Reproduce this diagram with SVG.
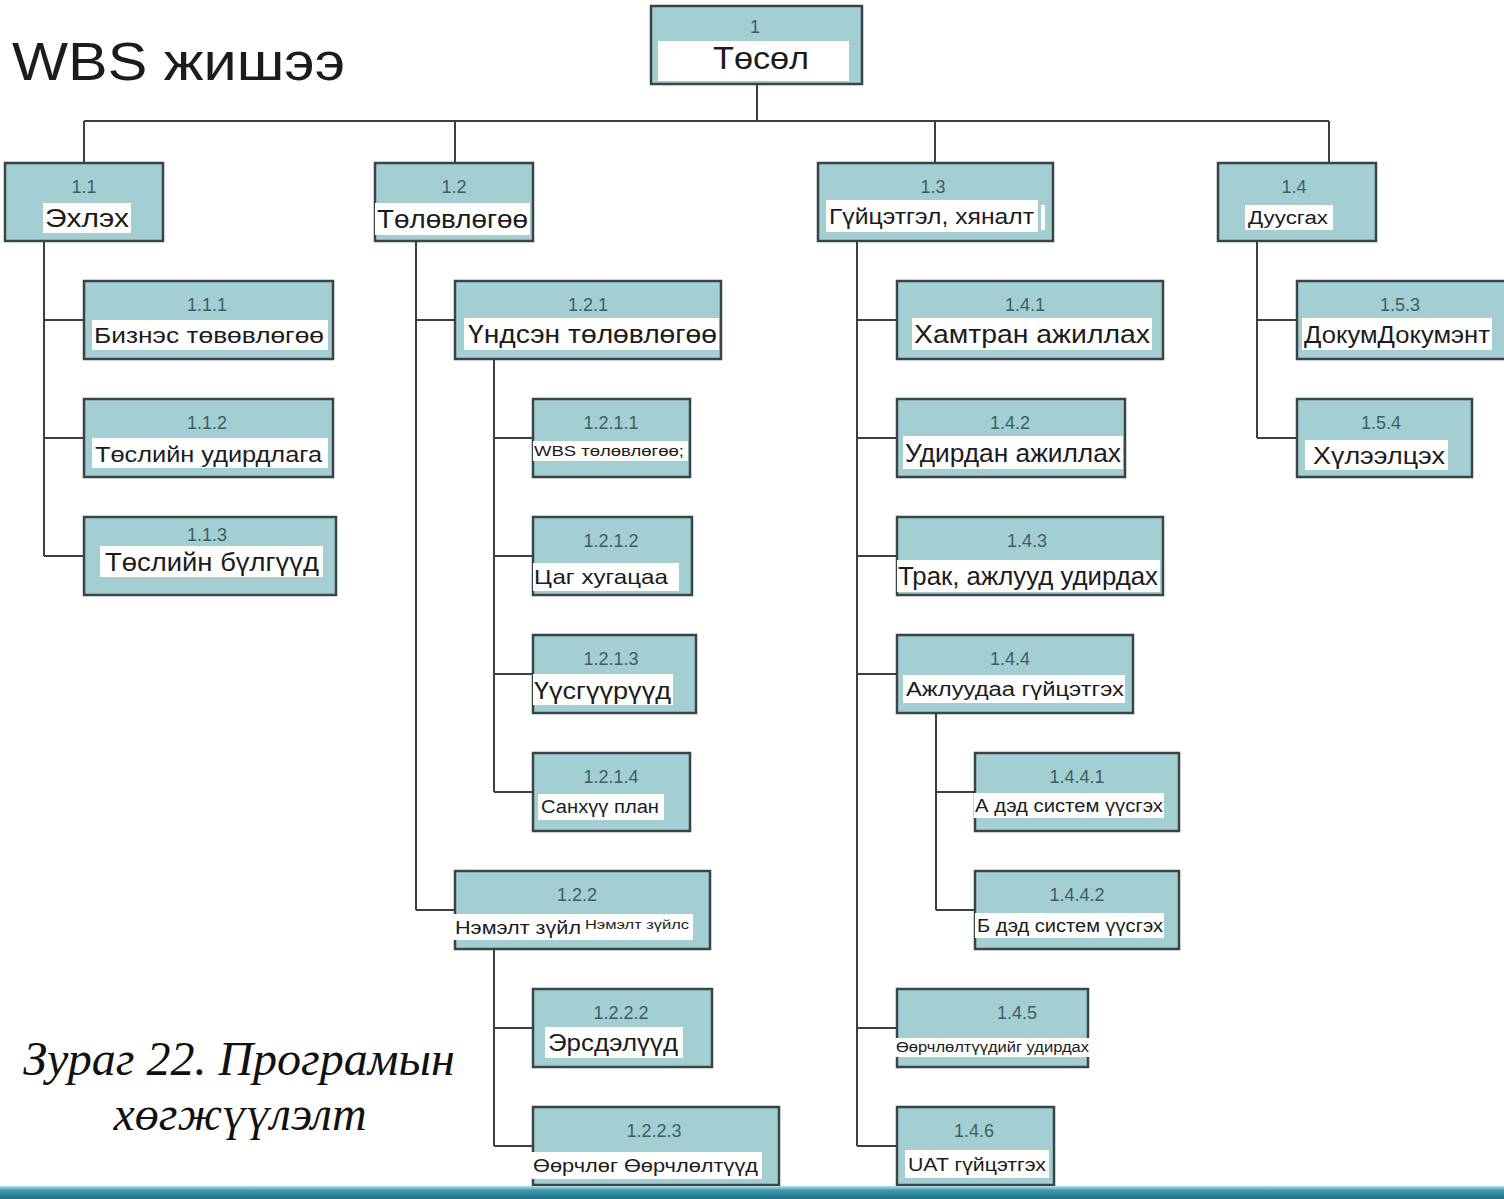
<svg xmlns="http://www.w3.org/2000/svg" width="1504" height="1199" viewBox="0 0 1504 1199">
<defs>
<style>
.box{fill:#a3cfd3;stroke:#3a4446;stroke-width:2.5}
.lb{fill:#ffffff}
.num{font-family:"Liberation Sans",Arial,sans-serif;font-size:18px;fill:#3b5f63;text-anchor:middle}
.t{font-family:"Liberation Sans",Arial,sans-serif;fill:#1c1c1c}
.c{fill:none;stroke:#3a3f40;stroke-width:2}
.cap{font-family:"Liberation Serif","Times New Roman",serif;font-style:italic;font-size:48px;fill:#111;text-anchor:middle}
</style>
<linearGradient id="bar" x1="0" y1="0" x2="0" y2="1">
<stop offset="0" stop-color="#b9e0e6"/>
<stop offset="0.35" stop-color="#3d97ab"/>
<stop offset="1" stop-color="#1f7186"/>
</linearGradient>
</defs>
<rect width="1504" height="1199" fill="#ffffff"/>
<text x="12" y="80" class="t" font-size="54" fill="#222" textLength="333" lengthAdjust="spacingAndGlyphs">WBS жишээ</text>

<g id="connectors" class="c">
<path d="M757 84V121M84 121H1329M84 121V163M455 121V163M935 121V163M1329 121V163"/>
<path d="M44 241V556M44 320H84M44 438H84M44 556H84"/>
<path d="M416 241V910M416 320H455M416 910H455"/>
<path d="M494 359V792M494 438H533M494 556H533M494 674H533M494 792H533"/>
<path d="M494 949V1146M494 1028H533M494 1146H533"/>
<path d="M857 241V1146M857 320H897M857 438H897M857 556H897M857 674H897M857 1028H897M857 1146H897"/>
<path d="M936 713V910M936 792H975M936 910H975"/>
<path d="M1257 241V438M1257 320H1297M1257 438H1297"/>
</g>

<g id="n1"><rect class="box" x="651" y="6" width="211" height="78"/><text class="num" x="755" y="33">1</text><rect class="lb" x="658" y="41" width="191" height="40"/><text class="t" x="713" y="69" font-size="32" textLength="96" lengthAdjust="spacingAndGlyphs">Төсөл</text></g>

<g id="n1_1"><rect class="box" x="5" y="163" width="158" height="78"/><text class="num" x="84" y="193">1.1</text><rect class="lb" x="43" y="203" width="88" height="30"/><text class="t" x="45" y="227" font-size="26" textLength="84" lengthAdjust="spacingAndGlyphs">Эхлэх</text></g>
<g id="n1_2"><rect class="box" x="375" y="163" width="158" height="78"/><text class="num" x="454" y="193">1.2</text><rect class="lb" x="375" y="203" width="155" height="32"/><text class="t" x="377" y="228" font-size="26" textLength="151" lengthAdjust="spacingAndGlyphs">Төлөвлөгөө</text></g>
<g id="n1_3"><rect class="box" x="818" y="163" width="235" height="78"/><text class="num" x="933" y="193">1.3</text><rect class="lb" x="826" y="200" width="212" height="32"/><rect class="lb" x="1041" y="205" width="4" height="25"/><text class="t" x="829" y="224" font-size="22" textLength="205" lengthAdjust="spacingAndGlyphs">Гүйцэтгэл, хяналт</text></g>
<g id="n1_4"><rect class="box" x="1218" y="163" width="158" height="78"/><text class="num" x="1294" y="193">1.4</text><rect class="lb" x="1245" y="205" width="88" height="25"/><text class="t" x="1248" y="224" font-size="18" textLength="80" lengthAdjust="spacingAndGlyphs">Дуусгах</text></g>

<g id="n1_1_1"><rect class="box" x="84" y="281" width="249" height="78"/><text class="num" x="207" y="311">1.1.1</text><rect class="lb" x="92" y="320" width="236" height="30"/><text class="t" x="94" y="343" font-size="22" textLength="230" lengthAdjust="spacingAndGlyphs">Бизнэс төвөвлөгөө</text></g>
<g id="n1_1_2"><rect class="box" x="84" y="399" width="249" height="78"/><text class="num" x="207" y="429">1.1.2</text><rect class="lb" x="92" y="438" width="236" height="30"/><text class="t" x="95" y="462" font-size="22" textLength="227" lengthAdjust="spacingAndGlyphs">Төслийн удирдлага</text></g>
<g id="n1_1_3"><rect class="box" x="84" y="517" width="252" height="78"/><text class="num" x="207" y="541">1.1.3</text><rect class="lb" x="100" y="546" width="223" height="31"/><text class="t" x="105" y="571" font-size="25" textLength="214" lengthAdjust="spacingAndGlyphs">Төслийн бүлгүүд</text></g>

<g id="n1_2_1"><rect class="box" x="455" y="281" width="266" height="78"/><text class="num" x="588" y="311">1.2.1</text><rect class="lb" x="464" y="318" width="255" height="32"/><text class="t" x="468" y="343" font-size="25" textLength="249" lengthAdjust="spacingAndGlyphs">Үндсэн төлөвлөгөө</text></g>
<g id="n1_2_1_1"><rect class="box" x="533" y="399" width="157" height="78"/><text class="num" x="611" y="429">1.2.1.1</text><rect class="lb" x="533" y="441" width="155" height="20"/><text class="t" x="534" y="456" font-size="14" textLength="150" lengthAdjust="spacingAndGlyphs">WBS төлөвлөгөө;</text></g>
<g id="n1_2_1_2"><rect class="box" x="533" y="517" width="159" height="78"/><text class="num" x="611" y="547">1.2.1.2</text><rect class="lb" x="533" y="563" width="146" height="28"/><text class="t" x="534" y="584" font-size="21" textLength="134" lengthAdjust="spacingAndGlyphs">Цаг хугацаа</text></g>
<g id="n1_2_1_3"><rect class="box" x="533" y="635" width="163" height="78"/><text class="num" x="611" y="665">1.2.1.3</text><rect class="lb" x="533" y="674" width="140" height="31"/><text class="t" x="534" y="699" font-size="23" textLength="137" lengthAdjust="spacingAndGlyphs">Үүсгүүрүүд</text></g>
<g id="n1_2_1_4"><rect class="box" x="533" y="753" width="157" height="78"/><text class="num" x="611" y="783">1.2.1.4</text><rect class="lb" x="538" y="794" width="126" height="26"/><text class="t" x="541" y="813" font-size="18" textLength="118" lengthAdjust="spacingAndGlyphs">Санхүү план</text></g>

<g id="n1_2_2"><rect class="box" x="455" y="871" width="255" height="78"/><text class="num" x="577" y="901">1.2.2</text><rect class="lb" x="453" y="914" width="240" height="26"/><text class="t" x="455" y="934" font-size="19" textLength="126" lengthAdjust="spacingAndGlyphs">Нэмэлт зүйл</text><text class="t" x="585" y="929" font-size="12" textLength="104" lengthAdjust="spacingAndGlyphs">Нэмэлт зүйлс</text></g>
<g id="n1_2_2_2"><rect class="box" x="533" y="989" width="179" height="78"/><text class="num" x="621" y="1019">1.2.2.2</text><rect class="lb" x="545" y="1027" width="138" height="31"/><text class="t" x="548" y="1051" font-size="23" textLength="130" lengthAdjust="spacingAndGlyphs">Эрсдэлүүд</text></g>
<g id="n1_2_2_3"><rect class="box" x="533" y="1107" width="246" height="78"/><text class="num" x="654" y="1137">1.2.2.3</text><rect class="lb" x="530" y="1152" width="232" height="27"/><text class="t" x="533" y="1172" font-size="19" textLength="225" lengthAdjust="spacingAndGlyphs">Өөрчлөг Өөрчлөлтүүд</text></g>

<g id="n1_4_1"><rect class="box" x="897" y="281" width="266" height="78"/><text class="num" x="1025" y="311">1.4.1</text><rect class="lb" x="912" y="318" width="240" height="32"/><text class="t" x="914" y="343" font-size="25" textLength="236" lengthAdjust="spacingAndGlyphs">Хамтран ажиллах</text></g>
<g id="n1_4_2"><rect class="box" x="897" y="399" width="228" height="78"/><text class="num" x="1010" y="429">1.4.2</text><rect class="lb" x="903" y="436" width="220" height="33"/><text class="t" x="905" y="462" font-size="25" textLength="216" lengthAdjust="spacingAndGlyphs">Удирдан ажиллах</text></g>
<g id="n1_4_3"><rect class="box" x="897" y="517" width="266" height="78"/><text class="num" x="1027" y="547">1.4.3</text><rect class="lb" x="897" y="560" width="263" height="32"/><text class="t" x="898" y="585" font-size="25" textLength="260" lengthAdjust="spacingAndGlyphs">Трак, ажлууд удирдах</text></g>
<g id="n1_4_4"><rect class="box" x="897" y="635" width="236" height="78"/><text class="num" x="1010" y="665">1.4.4</text><rect class="lb" x="903" y="675" width="222" height="28"/><text class="t" x="906" y="696" font-size="20" textLength="218" lengthAdjust="spacingAndGlyphs">Ажлуудаа гүйцэтгэх</text></g>
<g id="n1_4_4_1"><rect class="box" x="975" y="753" width="204" height="78"/><text class="num" x="1077" y="783">1.4.4.1</text><rect class="lb" x="974" y="793" width="190" height="25"/><text class="t" x="975" y="812" font-size="18" textLength="188" lengthAdjust="spacingAndGlyphs">А дэд систем үүсгэх</text></g>
<g id="n1_4_4_2"><rect class="box" x="975" y="871" width="204" height="78"/><text class="num" x="1077" y="901">1.4.4.2</text><rect class="lb" x="975" y="913" width="189" height="25"/><text class="t" x="977" y="932" font-size="18" textLength="186" lengthAdjust="spacingAndGlyphs">Б дэд систем үүсгэх</text></g>
<g id="n1_4_5"><rect class="box" x="897" y="989" width="191" height="78"/><text class="num" x="1017" y="1019">1.4.5</text><rect class="lb" x="895" y="1038" width="195" height="19"/><text class="t" x="896" y="1052" font-size="14" textLength="193" lengthAdjust="spacingAndGlyphs">Өөрчлөлтүүдийг удирдах</text></g>
<g id="n1_4_6"><rect class="box" x="897" y="1107" width="157" height="78"/><text class="num" x="974" y="1137">1.4.6</text><rect class="lb" x="905" y="1150" width="144" height="28"/><text class="t" x="908" y="1171" font-size="19" textLength="138" lengthAdjust="spacingAndGlyphs">UAT гүйцэтгэх</text></g>

<g id="n1_5_3"><rect class="box" x="1297" y="281" width="212" height="78"/><text class="num" x="1400" y="311">1.5.3</text><rect class="lb" x="1302" y="318" width="190" height="32"/><text class="t" x="1304" y="343" font-size="24" textLength="186" lengthAdjust="spacingAndGlyphs">ДокумДокумэнт</text></g>
<g id="n1_5_4"><rect class="box" x="1297" y="399" width="175" height="78"/><text class="num" x="1381" y="429">1.5.4</text><rect class="lb" x="1305" y="440" width="143" height="30"/><text class="t" x="1313" y="464" font-size="23" textLength="132" lengthAdjust="spacingAndGlyphs">Хүлээлцэх</text></g>

<text class="cap" x="239" y="1075">Зураг 22. Програмын</text>
<text class="cap" x="240" y="1130">хөгжүүлэлт</text>

<rect x="0" y="1186" width="1504" height="13" fill="url(#bar)"/>
</svg>
